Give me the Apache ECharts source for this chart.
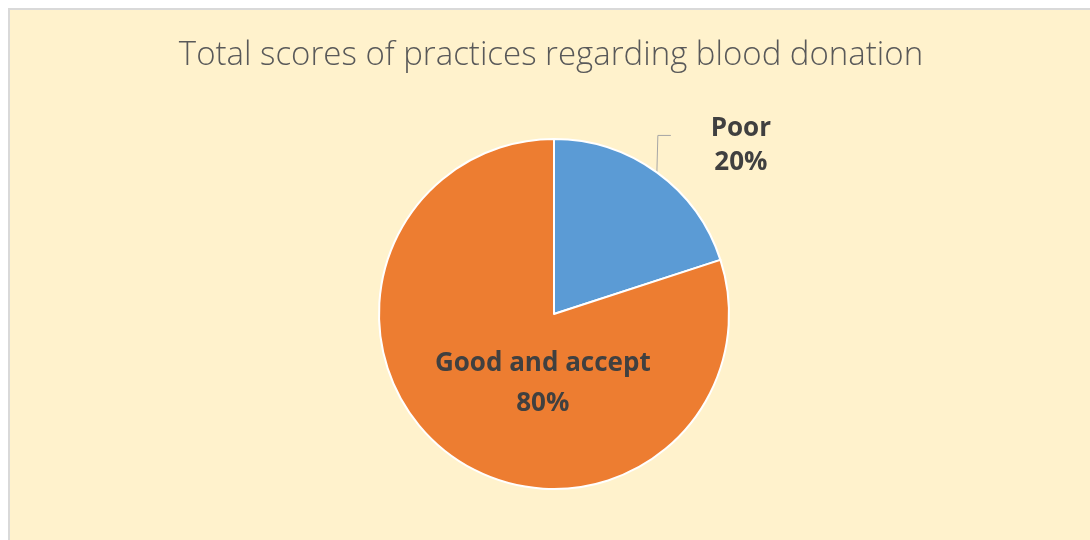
<!DOCTYPE html>
<html>
<head>
<meta charset="utf-8">
<script src="https://cdn.jsdelivr.net/npm/echarts@6/dist/echarts.min.js"></script>
<style>
  body { margin: 0; background: #ffffff; }
  #main { position: absolute; left: 8px; top: 8px; width: 1082px; height: 532px;
          background: #FFF2CC; border-top: 2px solid #D9D9D9; border-left: 2px solid #D9D9D9; }
</style>
</head>
<body>
<div id="main"></div>
<script>
var titleText = 'Total scores of practices regarding blood donation';
var categories = ['Poor', 'Good and accept'];
var values = [20, 80];
var colors = ['#5B9BD5', '#ED7D31'];

var myChart = echarts.init(document.getElementById('main'));

// 每块扇区的标签样式
var labelStyles = [
    { position: 'outside', lineHeight: 34, align: 'center' },
    { position: 'inside', lineHeight: 40, offset: [42, -4] }
];

var data = [];
for (var i = 0; i < categories.length; i++) {
    data.push({
        name: categories[i],
        value: values[i],
        itemStyle: { color: colors[i] },
        label: labelStyles[i]
    });
}

var option = {
    title: {
        text: titleText,
        left: 'center',
        top: 24,
        textStyle: {
            fontFamily: 'Open Sans',
            fontWeight: 300,
            fontSize: 33,
            color: '#595959'
        }
    },
    series: [{
        type: 'pie',
        center: [544, 304],
        radius: 175,
        startAngle: 90,
        clockwise: true,
        data: data,
        itemStyle: { borderColor: '#ffffff', borderWidth: 2 },
        label: {
            formatter: '{b}\n{d}%',
            fontFamily: 'Open Sans',
            fontWeight: 'bold',
            fontSize: 26,
            color: '#404040'
        },
        labelLine: {
            show: true,
            length: 36,
            length2: 12,
            lineStyle: { color: '#A6A6A6', width: 1 }
        },
        // 引导线：先竖直向上再短横线（相对扇区边缘点）
        labelLayout: function (params) {
            if (params.dataIndex !== 0 || !params.labelLinePoints) return {};
            var p0 = params.labelLinePoints[0];
            return {
                x: p0[0] + 84,
                y: p0[1] - 27,
                align: 'center',
                verticalAlign: 'middle',
                labelLinePoints: [
                    [p0[0], p0[1]],
                    [p0[0] + 1, p0[1] - 37],
                    [p0[0] + 14, p0[1] - 37]
                ]
            };
        }
    }]
};

myChart.setOption(option);
</script>
</body>
</html>
